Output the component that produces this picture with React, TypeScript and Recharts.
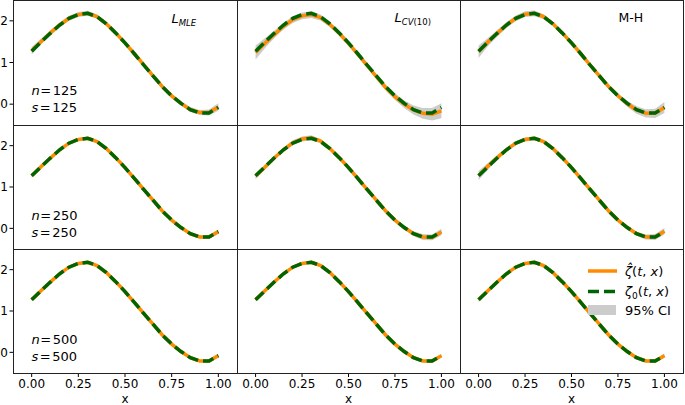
import React from 'react';
import { ComposedChart, Line, Area, XAxis, YAxis } from 'recharts';

// x grid of the curves
const xs = [0, 0.05, 0.1, 0.15, 0.2, 0.25, 0.3, 0.35, 0.4, 0.45, 0.5, 0.55, 0.6, 0.65, 0.7, 0.75, 0.8, 0.85, 0.9, 0.95, 1.0];

// true curve zeta_0(t, x)
const zeta0 = [1.27, 1.49, 1.70, 1.90, 2.06, 2.15, 2.18, 2.10, 1.93, 1.71, 1.47, 1.21, 0.94, 0.68, 0.42, 0.20, 0.02, -0.13, -0.21, -0.21, -0.08];

// estimates per panel
const est125MLE = [1.28, 1.50, 1.71, 1.90, 2.06, 2.15, 2.18, 2.10, 1.93, 1.71, 1.47, 1.21, 0.95, 0.68, 0.42, 0.20, 0.02, -0.13, -0.20, -0.20, -0.07];
const est125CV = [1.24, 1.46, 1.67, 1.87, 2.03, 2.12, 2.15, 2.08, 1.91, 1.70, 1.46, 1.20, 0.93, 0.66, 0.40, 0.18, 0.00, -0.14, -0.22, -0.24, -0.16];
const est125MH = [1.26, 1.49, 1.70, 1.90, 2.06, 2.16, 2.18, 2.10, 1.93, 1.71, 1.47, 1.21, 0.94, 0.68, 0.42, 0.20, 0.01, -0.14, -0.22, -0.22, -0.08];
const est250MLE = [1.27, 1.49, 1.70, 1.90, 2.06, 2.15, 2.18, 2.10, 1.93, 1.71, 1.47, 1.21, 0.94, 0.68, 0.42, 0.20, 0.02, -0.13, -0.21, -0.21, -0.08];
const est250CV = [1.26, 1.48, 1.70, 1.90, 2.07, 2.16, 2.19, 2.11, 1.93, 1.71, 1.47, 1.21, 0.94, 0.68, 0.42, 0.20, 0.02, -0.13, -0.21, -0.22, -0.09];
const est250MH = [1.28, 1.50, 1.71, 1.90, 2.06, 2.15, 2.18, 2.10, 1.93, 1.71, 1.47, 1.21, 0.94, 0.68, 0.42, 0.20, 0.02, -0.13, -0.21, -0.21, -0.07];
const est500MLE = [1.27, 1.49, 1.70, 1.90, 2.06, 2.15, 2.18, 2.10, 1.93, 1.71, 1.47, 1.21, 0.94, 0.68, 0.42, 0.20, 0.02, -0.13, -0.21, -0.21, -0.08];
const est500CV = [1.27, 1.49, 1.70, 1.90, 2.06, 2.15, 2.18, 2.10, 1.93, 1.71, 1.47, 1.21, 0.94, 0.68, 0.42, 0.20, 0.02, -0.13, -0.21, -0.21, -0.08];
const est500MH = [1.27, 1.49, 1.70, 1.90, 2.06, 2.15, 2.18, 2.10, 1.93, 1.71, 1.47, 1.21, 0.94, 0.68, 0.42, 0.20, 0.02, -0.13, -0.21, -0.21, -0.08];

// 95% CI half widths per panel
const ci125MLE = [0.09, 0.07, 0.06, 0.06, 0.06, 0.06, 0.06, 0.05, 0.05, 0.05, 0.05, 0.05, 0.05, 0.05, 0.05, 0.05, 0.05, 0.06, 0.06, 0.07, 0.09];
const ci125CV = [0.17, 0.12, 0.09, 0.08, 0.08, 0.08, 0.08, 0.07, 0.06, 0.06, 0.06, 0.06, 0.06, 0.06, 0.07, 0.08, 0.09, 0.11, 0.13, 0.15, 0.18];
const ci125MH = [0.15, 0.10, 0.08, 0.07, 0.07, 0.07, 0.07, 0.06, 0.05, 0.05, 0.05, 0.05, 0.05, 0.05, 0.06, 0.06, 0.07, 0.09, 0.10, 0.11, 0.13];
const ci250MLE = [0.05, 0.04, 0.03, 0.03, 0.03, 0.03, 0.03, 0.03, 0.03, 0.03, 0.03, 0.03, 0.03, 0.03, 0.03, 0.03, 0.03, 0.03, 0.04, 0.04, 0.05];
const ci250CV = [0.07, 0.05, 0.04, 0.05, 0.06, 0.06, 0.06, 0.05, 0.04, 0.04, 0.04, 0.04, 0.04, 0.04, 0.04, 0.04, 0.05, 0.06, 0.07, 0.07, 0.08];
const ci250MH = [0.11, 0.08, 0.06, 0.05, 0.05, 0.05, 0.05, 0.04, 0.04, 0.04, 0.04, 0.04, 0.04, 0.04, 0.04, 0.04, 0.05, 0.05, 0.06, 0.07, 0.08];
const ci500MLE = [0.03, 0.03, 0.02, 0.02, 0.02, 0.02, 0.02, 0.02, 0.02, 0.02, 0.02, 0.02, 0.02, 0.02, 0.02, 0.02, 0.02, 0.02, 0.03, 0.03, 0.03];
const ci500CV = [0.04, 0.03, 0.03, 0.03, 0.03, 0.03, 0.03, 0.02, 0.02, 0.02, 0.02, 0.02, 0.02, 0.02, 0.02, 0.03, 0.03, 0.03, 0.03, 0.04, 0.04];
const ci500MH = [0.06, 0.04, 0.03, 0.03, 0.03, 0.03, 0.03, 0.02, 0.02, 0.02, 0.02, 0.02, 0.02, 0.02, 0.02, 0.03, 0.03, 0.03, 0.04, 0.04, 0.05];

const sampleSizes = ['125', '250', '500'];
const xTicks = [0, 0.25, 0.5, 0.75, 1];
const yTicks = [0, 1, 2];

const estGrid = [
  [est125MLE, est125CV, est125MH],
  [est250MLE, est250CV, est250MH],
  [est500MLE, est500CV, est500MH],
];
const ciGrid = [
  [ci125MLE, ci125CV, ci125MH],
  [ci250MLE, ci250CV, ci250MH],
  [ci500MLE, ci500CV, ci500MH],
];

const colX = [13, 237, 460, 683];
const rowY = [0, 125, 249, 373];
const FONT = 'DejaVu Sans, sans-serif';
const ORANGE = '#ff8c00';
const GREEN = '#006400';
const BAND = '#cccccc';

const tickStyle = { fill: '#000', fontSize: 12, fontFamily: FONT };

const Panel: React.FC<{ row: number; col: number }> = ({ row, col }) => {
  const est = estGrid[row][col];
  const ci = ciGrid[row][col];
  const data = xs.map((x, i) => ({
    x,
    truth: zeta0[i],
    est: est[i],
    band: [est[i] - ci[i], est[i] + ci[i]],
  }));
  const left = col === 0 ? 0 : colX[col];
  const bottomRow = row === 2;
  const width = colX[col + 1] - left;
  const height = rowY[row + 1] - rowY[row] + (bottomRow ? 32 : 0);
  return (
    <div style={{ position: 'absolute', left, top: rowY[row] }}>
      <ComposedChart width={width} height={height} data={data} margin={{ top: 0, right: 0, bottom: 0, left: 0 }}>
        <XAxis
          dataKey="x"
          type="number"
          domain={[-0.1, 1.1]}
          ticks={xTicks}
          interval={0}
          hide={!bottomRow}
          height={bottomRow ? 32 : 0}
          tickFormatter={(v: number) => v.toFixed(2)}
          axisLine={false}
          tickLine={{ stroke: '#000' }}
          tickSize={4}
          tickMargin={2}
          tick={tickStyle}
          label={bottomRow ? { value: 'x', position: 'insideBottom', offset: 2, fill: '#000', fontSize: 12, fontFamily: FONT } : undefined}
        />
        <YAxis
          type="number"
          domain={[-0.5, 2.5]}
          ticks={yTicks}
          interval={0}
          hide={col !== 0}
          width={col === 0 ? 13 : 0}
          axisLine={false}
          tickLine={{ stroke: '#000' }}
          tickSize={3.5}
          tickMargin={1.5}
          tick={tickStyle}
        />
        <Area type="linear" dataKey="band" stroke="none" fill={BAND} fillOpacity={1} isAnimationActive={false} />
        <Line type="linear" dataKey="est" stroke={ORANGE} strokeWidth={3.5} dot={false} isAnimationActive={false} />
        <Line type="linear" dataKey="truth" stroke={GREEN} strokeWidth={3.5} strokeDasharray="11 5" dot={false} isAnimationActive={false} />
      </ComposedChart>
    </div>
  );
};

const App: React.FC = () => {
  const panels = [];
  for (let r = 0; r < 3; r++) for (let c = 0; c < 3; c++) panels.push(<Panel key={`${r}-${c}`} row={r} col={c} />);
  return (
    <div style={{ position: 'absolute', left: 0, top: 0, width: 685, height: 405, background: '#fff', fontFamily: FONT }}>
      {panels}
      <svg width={685} height={405} style={{ position: 'absolute', left: 0, top: 0, pointerEvents: 'none' }} fontFamily={FONT}>
        {/* panel frames */}
        {colX.map((x) => (
          <line key={`v${x}`} x1={x + 0.5} x2={x + 0.5} y1={0} y2={373} stroke="#222" strokeWidth={1} />
        ))}
        {rowY.map((y) => (
          <line key={`h${y}`} x1={13} x2={684} y1={y + 0.5} y2={y + 0.5} stroke="#222" strokeWidth={1} />
        ))}

        {/* method labels */}
        <text x={171.5} y={22.7} fontSize={13} fill="#000">
          <tspan fontStyle="italic">L</tspan>
          <tspan fontSize={8.5} fontStyle="italic" dy={2.8}>MLE</tspan>
        </text>
        <text x={394.5} y={21.7} fontSize={13} fill="#000">
          <tspan fontStyle="italic">L</tspan>
          <tspan fontSize={8.5} fontStyle="italic" dy={2.8}>CV</tspan>
          <tspan fontSize={8.5}>(10)</tspan>
        </text>
        <text x={618.5} y={21.7} fontSize={12.5} fill="#000">M-H</text>

        {/* sample size labels */}
        {sampleSizes.map((n, r) => (
          <g key={n}>
            <text x={31.5} y={95 + rowY[r]} fontSize={13} fill="#000">
              <tspan fontStyle="italic">n</tspan>
              <tspan dx={0.5}>=</tspan>
              <tspan dx={1.5}>{n}</tspan>
            </text>
            <text x={31.5} y={111.5 + rowY[r]} fontSize={13} fill="#000">
              <tspan fontStyle="italic">s</tspan>
              <tspan dx={1.5}>=</tspan>
              <tspan dx={1.5}>{n}</tspan>
            </text>
          </g>
        ))}

        {/* legend */}
        <line x1={588} x2={617} y1={271} y2={271} stroke={ORANGE} strokeWidth={3.5} />
        <line x1={588} x2={617} y1={291.5} y2={291.5} stroke={GREEN} strokeWidth={3.5} strokeDasharray="11 5" />
        <rect x={588} y={305} width={28} height={10} fill={BAND} />
        <text x={625} y={275.5} fontSize={13} fill="#000">
          <tspan fontStyle="italic">{'\u03B6\u0302'}</tspan>
          <tspan>(</tspan>
          <tspan fontStyle="italic">t</tspan>
          <tspan>, </tspan>
          <tspan fontStyle="italic">x</tspan>
          <tspan>)</tspan>
        </text>
        <text x={625} y={296} fontSize={13} fill="#000">
          <tspan fontStyle="italic">{'\u03B6'}</tspan>
          <tspan fontSize={9} dy={2.5}>0</tspan>
          <tspan dy={-2.5}>(</tspan>
          <tspan fontStyle="italic">t</tspan>
          <tspan>, </tspan>
          <tspan fontStyle="italic">x</tspan>
          <tspan>)</tspan>
        </text>
        <text x={625} y={315} fontSize={13} fill="#000">95% CI</text>
      </svg>
    </div>
  );
};

export default App;
